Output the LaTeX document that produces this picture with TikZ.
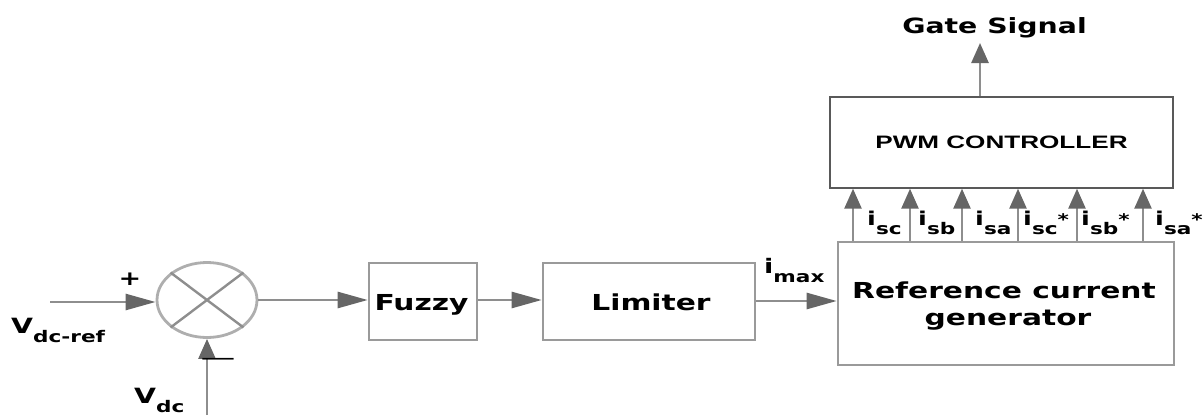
\documentclass[tikz,border=0pt]{standalone}
\usepackage{fontspec}
\usepackage{graphicx}
\setmainfont{DejaVu Sans}
\newfontfamily\arialfont{Liberation Sans}
\usetikzlibrary{arrows.meta,shapes.geometric}

\definecolor{wire}{HTML}{8E8E8E}
\definecolor{tipc}{HTML}{666666}
\definecolor{frame}{HTML}{9A9A9A}

% widened bold text
\newcommand{\wtxt}[2]{\scalebox{1.35}[1]{\fontsize{#1}{#1}\selectfont\bfseries #2}}
% symbol with a lowered index and optional star
\newcommand{\sym}[4]{\scalebox{1.35}[1]{\bfseries\fontsize{#1}{#1}\selectfont #2\raisebox{-9pt}{\fontsize{16}{16}\selectfont #3}\fontsize{16}{16}\selectfont #4}}

\tikzset{
  hwire/.style={draw=wire, line width=2.6pt,
    -{Triangle[length=30pt,width=16pt,color=tipc]}},
  vwire/.style={draw=wire, line width=2.6pt,
    -{Triangle[length=20pt,width=17pt,color=tipc]}},
  blockbox/.style={draw=frame, line width=2.6pt, fill=white, inner sep=0pt},
  lbl/.style={inner sep=0pt, anchor=base west},
  txt/.style={inner sep=0pt, anchor=base},
}

\begin{document}
\begin{tikzpicture}[x=1pt,y=-1pt]
\useasboundingbox (0,0) rectangle (1204,415);

% summing junction
\node[ellipse, draw=frame!80, line width=2.8pt, minimum width=100pt,
      minimum height=75pt, inner sep=0pt] (sum) at (207,300) {};
\draw[draw=wire, line width=2.4pt] (sum.37) -- (sum.217);
\draw[draw=wire, line width=2.4pt] (sum.143) -- (sum.323);

% blocks
\node[blockbox, minimum width=108pt, minimum height=77pt] (fuzzy) at (423,301.5) {};
\node[blockbox, minimum width=212pt, minimum height=77pt] (lim) at (649,301.5) {};
\node[blockbox, minimum width=336pt, minimum height=123pt] (rcg) at (1006,303.5) {};
\node[draw=black!65, line width=1.4pt, fill=white, minimum width=343pt,
      minimum height=91pt, inner sep=0pt] (pwm) at (1001.5,142.5)
  {\scalebox{1.45}[1]{\arialfont\bfseries\fontsize{18}{18}\selectfont PWM CONTROLLER}};

% block texts
\node[txt] (tfuzzy) at (421.5,310) {\wtxt{22}{Fuzzy}};
\node[txt] (tlim) at (651,310) {\wtxt{22}{Limiter}};
\node[txt] (trcg1) at (1004,298) {\wtxt{22}{Reference current}};
\node[txt] (trcg2) at (1008,325) {\wtxt{22}{generator}};

% free ends
\coordinate (vin) at (50,302);
\coordinate (vdc) at (207,415);
\coordinate (gate) at (980,43);
\coordinate (c1) at (853,0);
\coordinate (c2) at (910,0);
\coordinate (c3) at (962,0);
\coordinate (c4) at (1018,0);
\coordinate (c5) at (1077,0);
\coordinate (c6) at (1143,0);

% signal path
\draw[hwire] (vin) -- (vin -| sum.west);
\draw[vwire] (vdc) -- (sum.south);
\draw[hwire] (sum.east) -- (fuzzy.west |- sum.east);
\draw[hwire] (fuzzy.east |- 0,300) -- (lim.west |- 0,300);
\draw[hwire] (lim.east |- 0,301) -- (rcg.west |- 0,301);
\foreach \c in {c1,c2,c3,c4,c5,c6}
  \draw[vwire] (\c |- rcg.north) -- (\c |- pwm.south);
\draw[vwire] (gate |- pwm.north) -- (gate);

% signs and labels
\node[inner sep=0pt] (plus) at (130,279) {\wtxt{20}{+}};
\node[inner sep=0pt] (minus) at (218,362) {\scalebox{2.5}[1]{\fontsize{20}{20}\selectfont −}};
\node[lbl] (lvref) at (11,333) {\sym{21}{V}{dc-ref}{}};
\node[lbl] (lvdc) at (134,403) {\sym{21}{V}{dc}{}};
\node[lbl] (limax) at (764,273) {\sym{20}{i}{max}{}};
\node[lbl] (l1) at (867,225) {\sym{19}{i}{sc}{}};
\node[lbl] (l2) at (918,225) {\sym{19}{i}{sb}{}};
\node[lbl] (l3) at (975,225) {\sym{19}{i}{sa}{}};
\node[lbl] (l4) at (1023,225) {\sym{19}{i}{sc}{*}};
\node[lbl] (l5) at (1081,225) {\sym{19}{i}{sb}{*}};
\node[lbl] (l6) at (1155,225) {\sym{19}{i}{sa}{*}};
\node[txt] (gs) at (994.5,33) {\wtxt{21}{Gate Signal}};
\end{tikzpicture}
\end{document}
